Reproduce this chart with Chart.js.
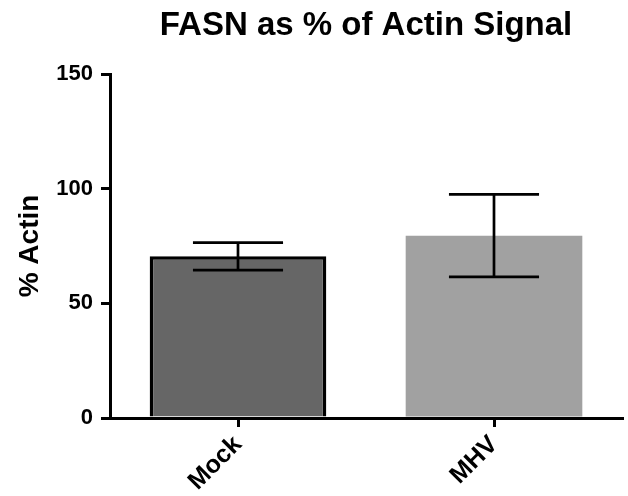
<!DOCTYPE html>
<html>
<head>
<meta charset="utf-8">
<script src="https://cdn.jsdelivr.net/npm/chart.js@4/dist/chart.umd.min.js"></script>
<style>
  html, body { margin: 0; padding: 0; background: #fff; }
  #wrap { width: 628px; height: 496px; }
</style>
</head>
<body>
<div id="wrap"><canvas id="c" width="628" height="496"></canvas></div>
<script>
const categories = ['Mock', 'MHV'];
const means = [70.5, 79.5];
const errors = [6, 18];
const barColors = ['#666666', '#a1a1a1'];
const barBorderColors = ['#000000', '#a1a1a1'];
const barBorderWidths = [3.5, 0];
const yTicks = [0, 50, 100, 150];
const titleText = 'FASN as % of Actin Signal';
const yTitle = '% Actin';

const FONT = "'Liberation Sans', Arial, Helvetica, sans-serif";

const titlePlugin = {
  id: 'centerTitle',
  afterDraw(chart) {
    const ctx = chart.ctx;
    const a = chart.chartArea;
    ctx.save();
    ctx.font = 'bold 33px ' + FONT;
    ctx.fillStyle = '#000';
    ctx.textAlign = 'center';
    ctx.textBaseline = 'alphabetic';
    ctx.fillText(titleText, (a.left + a.right) / 2, 35);
    ctx.restore();
  }
};

const errorBarPlugin = {
  id: 'errorBars',
  afterDatasetsDraw(chart) {
    const ctx = chart.ctx;
    const y = chart.scales.y;
    const meta = chart.getDatasetMeta(0);
    ctx.save();
    ctx.strokeStyle = '#000';
    ctx.lineWidth = 2.7;
    ctx.lineCap = 'butt';
    meta.data.forEach((bar, i) => {
      const x = bar.x;
      const half = bar.width * 0.255;
      const yTop = y.getPixelForValue(means[i] + errors[i]);
      const yBot = y.getPixelForValue(means[i] - errors[i]);
      ctx.beginPath();
      ctx.moveTo(x, yTop); ctx.lineTo(x, yBot);
      ctx.moveTo(x - half, yTop); ctx.lineTo(x + half, yTop);
      ctx.moveTo(x - half, yBot); ctx.lineTo(x + half, yBot);
      ctx.stroke();
    });
    ctx.restore();
  }
};

new Chart(document.getElementById('c'), {
  type: 'bar',
  data: {
    labels: categories,
    datasets: [{
      data: means,
      backgroundColor: barColors,
      borderColor: barBorderColors,
      borderWidth: barBorderWidths,
      borderSkipped: 'start',
      barPercentage: 0.69,
      categoryPercentage: 1.0
    }]
  },
  options: {
    responsive: false,
    animation: false,
    devicePixelRatio: 1,
    layout: { padding: { top: 74, right: 6, bottom: 0, left: 0 } },
    plugins: {
      legend: { display: false },
      title: { display: false },
      tooltip: { enabled: false }
    },
    scales: {
      x: {
        offset: true,
        afterFit(s) { s.height = 78; },
        border: { display: true, color: '#000', width: 3 },
        grid: { offset: false, drawOnChartArea: false, drawTicks: true, tickLength: 9, lineWidth: 3, color: '#000' },
        ticks: {
          color: '#000',
          font: { family: FONT, size: 25, weight: 'bold' },
          minRotation: 45, maxRotation: 45,
          padding: 3
        }
      },
      y: {
        min: 0, max: 150,
        afterFit(s) { s.width = 110; },
        afterBuildTicks(s) { s.ticks = yTicks.map(v => ({ value: v })); },
        border: { display: true, color: '#000', width: 3 },
        grid: { drawOnChartArea: false, drawTicks: true, tickLength: 9, lineWidth: 3, color: '#000' },
        ticks: {
          color: '#000',
          font: { family: FONT, size: 22, weight: 'bold' },
          padding: 8
        },
        title: {
          display: true,
          text: yTitle,
          color: '#000',
          font: { family: FONT, size: 28, weight: 'bold' },
          padding: { top: 13, bottom: 0 }
        }
      }
    }
  },
  plugins: [titlePlugin, errorBarPlugin]
});
</script>
</body>
</html>
